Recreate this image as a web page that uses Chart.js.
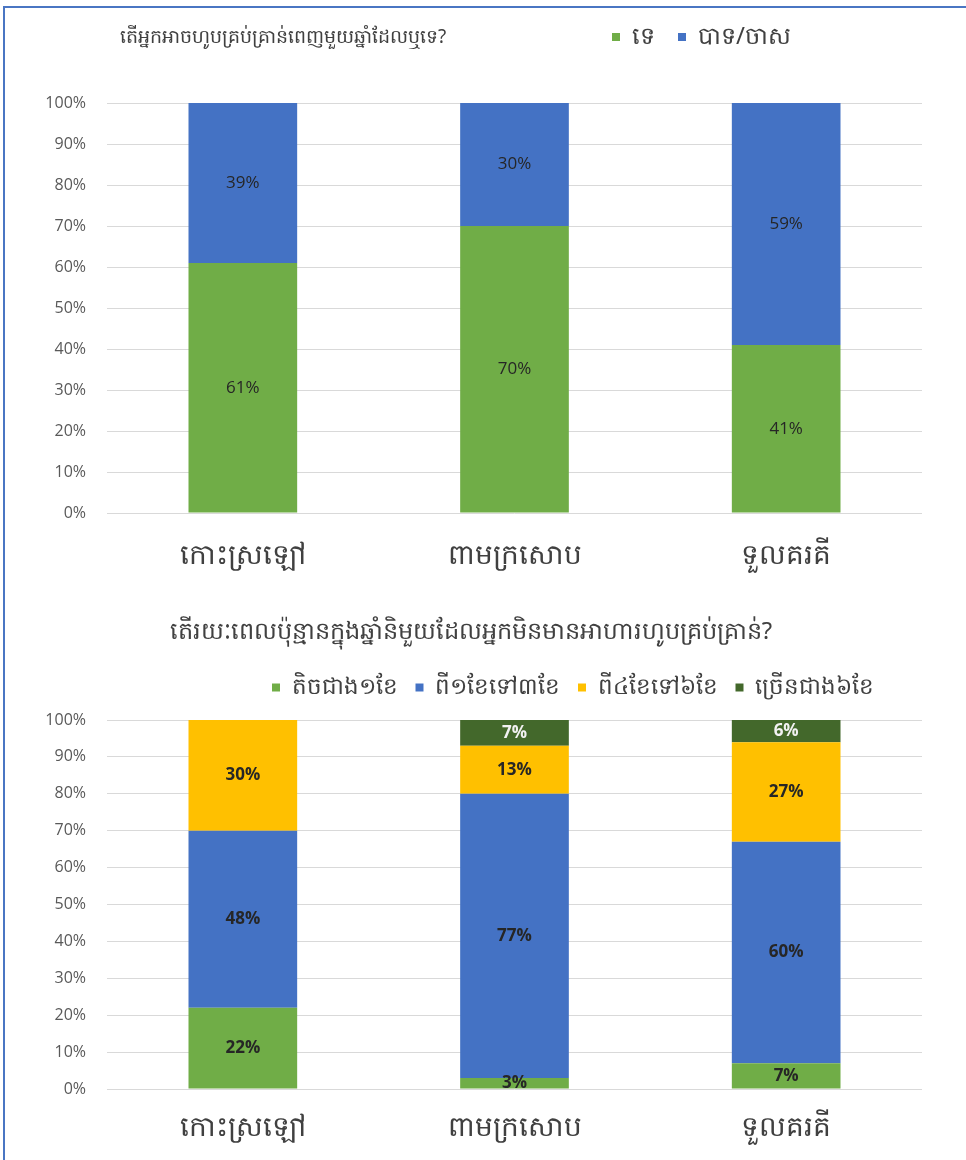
<!DOCTYPE html>
<html>
<head>
<meta charset="utf-8">
<script src="https://cdn.jsdelivr.net/npm/chart.js@4.4.1/dist/chart.umd.min.js"></script>
<style>
    body { margin: 0; background: #fff; width: 966px; height: 1160px; overflow: hidden; position: relative; }
    #frame { position: absolute; left: 3px; top: 6px; width: 1000px; height: 1200px;
             border-left: 2px solid #4a76c3; border-top: 2px solid #4a76c3; }
    .box { position: absolute; left: 0; width: 966px; height: 580px; }
</style>
</head>
<body>
<div id="frame"></div>
<div class="box" style="top:0"><canvas id="myChart1"></canvas></div>
<div class="box" style="top:580px"><canvas id="myChart2"></canvas></div>
<script>
var places = ["កោះស្រឡៅ", "ពាមក្រសោប", "ទួលគរគី"];

// chart 1: can you eat enough all year?
var title1 = "តើអ្នកអាចហូបគ្រប់គ្រាន់ពេញមួយឆ្នាំដែលឬទេ?";
var noLabel = "ទេ";
var yesLabel = "បាទ/ចាស";
var noValues = [61, 70, 41];
var yesValues = [39, 30, 59];

// chart 2: how many months without enough food?
var title2 = "តើរយៈពេលប៉ុន្មានក្នុងឆ្នាំនិមួយដែលអ្នកមិនមានអាហារហូបគ្រប់គ្រាន់?";
var monthLabels = ["តិចជាង១ខែ", "ពី១ខែទៅ៣ខែ", "ពី៤ខែទៅ៦ខែ", "ច្រើនជាង៦ខែ"];
var under1 = [22, 3, 7];
var from1to3 = [48, 77, 60];
var from4to6 = [30, 13, 27];
var over6 = [0, 7, 6];

var yTicks = [0, 10, 20, 30, 40, 50, 60, 70, 80, 90, 100];

var GREEN = "#70ad47", BLUE = "#4472c4", YELLOW = "#ffc000", DARKGREEN = "#43682b";
var KHMER = "'Noto Sans', 'DejaVu Sans', sans-serif";

// value labels in the middle of each segment
var barLabels = {
    id: 'barLabels',
    afterDatasetsDraw: function(chart, args, opts) {
        var ctx = chart.ctx;
        ctx.save();
        ctx.font = opts.font;
        ctx.textAlign = 'center';
        ctx.textBaseline = 'middle';
        chart.data.datasets.forEach(function(ds, i) {
            var meta = chart.getDatasetMeta(i);
            meta.data.forEach(function(bar, j) {
                var v = ds.data[j];
                if (!v) return;
                ctx.fillStyle = ds.labelColor || '#262626';
                ctx.fillText(v + '%', bar.x, (bar.y + bar.base) / 2);
            });
        });
        ctx.restore();
    }
};

// fix legend band height, then move title / legend where the original had them
var placeBoxes = {
    id: 'placeBoxes',
    beforeLayout: function(chart, args, opts) {
        var legend = chart.legend;
        if (opts.legendHeight != null && legend && !legend._fixedHeight) {
            var fit = legend.fit;
            legend.fit = function() {
                fit.call(this);
                this.height = opts.legendHeight;
            };
            legend._fixedHeight = true;
        }
    },
    afterLayout: function(chart, args, opts) {
        if (opts.titleX != null) chart.titleBlock.left = opts.titleX;
        if (opts.legendX != null) chart.legend.left = opts.legendX;
        if (opts.legendY != null) chart.legend.top = opts.legendY;
    }
};

function makeOptions(c) {
    return {
        responsive: true,
        maintainAspectRatio: false,
        animation: false,
        layout: { padding: { left: 20, right: 44, top: 16, bottom: 0 } },
        scales: {
            x: {
                stacked: true,
                grid: { display: false, drawTicks: false },
                border: { display: false },
                afterFit: function(axis) { axis.height = c.xHeight; },
                ticks: {
                    color: '#404040',
                    maxRotation: 0,
                    font: { family: KHMER, size: 28 },
                    padding: c.xPad
                }
            },
            y: {
                stacked: true,
                min: 0,
                max: 100,
                afterBuildTicks: function(axis) {
                    axis.ticks = yTicks.map(function(v) { return { value: v }; });
                },
                afterFit: function(axis) { axis.width = 87; },
                grid: { color: '#d9d9d9', drawTicks: false },
                border: { display: false },
                ticks: {
                    color: '#595959',
                    font: { family: "'Open Sans', sans-serif", size: 16 },
                    padding: 21,
                    callback: function(v) { return v + '%'; }
                }
            }
        },
        plugins: {
            title: {
                display: true,
                text: c.title,
                align: c.titleAlign,
                color: '#404040',
                font: { family: KHMER, size: c.titleSize, weight: 'normal' },
                padding: { top: c.titleTop, bottom: c.titleBottom }
            },
            legend: {
                position: 'top',
                align: 'start',
                labels: {
                    color: '#404040',
                    boxWidth: 8,
                    boxHeight: 8,
                    padding: c.legendPad,
                    font: { family: KHMER, size: c.legendSize }
                }
            },
            tooltip: { enabled: false },
            barLabels: { font: c.labelFont },
            placeBoxes: c.place
        }
    };
}

var data1 = {
    labels: places,
    datasets: [
        { label: noLabel, data: noValues, backgroundColor: GREEN,
          barPercentage: 0.4, categoryPercentage: 1 },
        { label: yesLabel, data: yesValues, backgroundColor: BLUE,
          barPercentage: 0.4, categoryPercentage: 1 }
    ]
};

var data2 = {
    labels: places,
    datasets: [
        { label: monthLabels[0], data: under1, backgroundColor: GREEN,
          barPercentage: 0.4, categoryPercentage: 1 },
        { label: monthLabels[1], data: from1to3, backgroundColor: BLUE,
          barPercentage: 0.4, categoryPercentage: 1 },
        { label: monthLabels[2], data: from4to6, backgroundColor: YELLOW,
          barPercentage: 0.4, categoryPercentage: 1 },
        { label: monthLabels[3], data: over6, backgroundColor: DARKGREEN, labelColor: '#f2f2f2',
          barPercentage: 0.4, categoryPercentage: 1 }
    ]
};

var ctx1 = document.getElementById("myChart1");
var myChart1 = new Chart(ctx1, {
    type: 'bar',
    data: data1,
    options: makeOptions({
        title: title1, titleAlign: 'start', titleSize: 19, titleTop: 10, titleBottom: 10,
        legendSize: 24, legendPad: 23,
        place: { titleX: 120, legendX: 589, legendY: 2, legendHeight: 44.2 },
        labelFont: "17px 'Open Sans', sans-serif",
        xHeight: 67, xPad: 26
    }),
    plugins: [barLabels, placeBoxes]
});

var ctx2 = document.getElementById("myChart2");
var myChart2 = new Chart(ctx2, {
    type: 'bar',
    data: data2,
    options: makeOptions({
        title: title2, titleAlign: 'center', titleSize: 24, titleTop: 22, titleBottom: 10,
        legendSize: 23, legendPad: 18,
        place: { legendX: 254, legendY: 78, legendHeight: 63.2 },
        labelFont: "bold 17px 'Open Sans', sans-serif",
        xHeight: 71, xPad: 22
    }),
    plugins: [barLabels, placeBoxes]
});
</script>
</body>
</html>
